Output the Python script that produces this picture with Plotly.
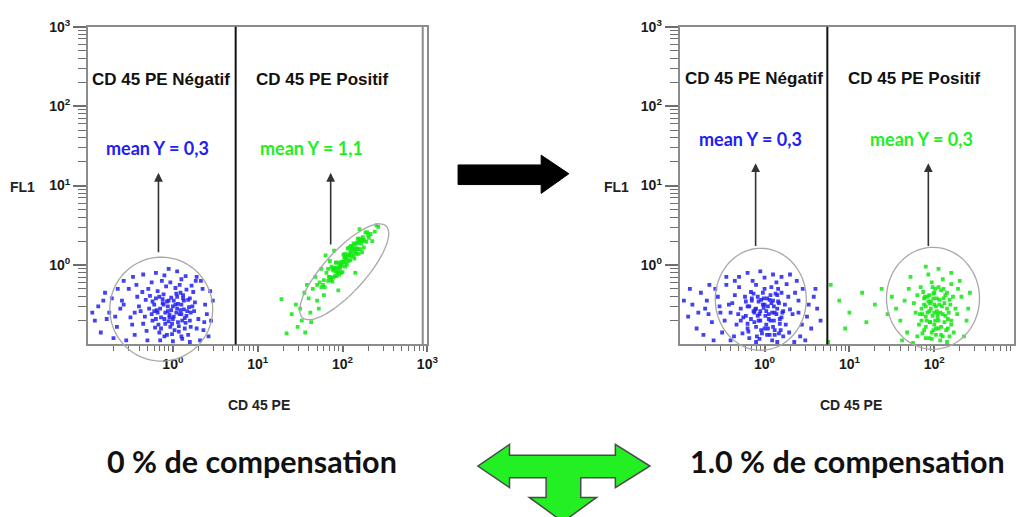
import numpy as np
import plotly.graph_objects as go

W, H = 1030, 517

# ---------------- tick labels ----------------
tick_vals = [1, 10, 100, 1000]
tick_text = ["10<sup>0</sup>", "10<sup>1</sup>", "10<sup>2</sup>", "10<sup>3</sup>"]
minor_vals = [m * 10.0 ** d for d in range(-1, 3) for m in range(2, 10)]

# ---------------- data (log10 units) ----------------
# 0 % compensation, CD45 negative (blue)
neg0_x = [-0.12, 0.05, -0.25, 0.12, -0.05, -0.32, 0.21, -0.18, 0.02, -0.08, 0.15, -0.38, -0.02, 0.26, -0.21,
          0.08, -0.14, 0.18, -0.29, 0.0, -0.1, 0.1, -0.35, 0.24, -0.06, 0.13, -0.22, 0.04, -0.16, 0.3,
          -0.27, 0.07, -0.03, 0.19, -0.11, -0.4, 0.11, -0.19, 0.01, 0.22, -0.31, -0.07, 0.16, -0.24, 0.06,
          -0.13, 0.28, -0.36, -0.01, 0.09, -0.2, 0.14, -0.09, 0.03, -0.28, 0.2, -0.15, 0.25, -0.04, -0.33,
          -0.6, -0.75, -0.88, -0.52, -0.66, -0.92, -0.45, -0.58, -0.8, -0.7, -0.5, -0.62, -0.85, -0.47, -0.72,
          0.38, 0.45, 0.35, 0.42, 0.33, 0.4, 0.47, 0.36, -0.2, 0.05, -0.1, 0.15, -0.35, 0.28, -0.3,
          0.0, 0.2, -0.45, -0.55, -0.42, 0.32, -0.25, -0.65, -0.78, -0.95, -0.48, 0.27, -0.05, 0.1, -0.58,
          -0.68, 0.44, -0.43, 0.37, -0.82,
          -0.05, 0.1, -0.15, 0.0, 0.17, -0.09, 0.06, -0.2, 0.12, -0.03, 0.2, -0.12, 0.04, -0.17, 0.14,
          -0.06, 0.09, -0.24, 0.23, 0.01, -0.1, 0.07, -0.18, 0.16, -0.02, 0.11, -0.14, 0.03, -0.07, 0.18,
          -0.22, 0.05, -0.11, 0.13, -0.01, 0.08, -0.16, 0.21, -0.04, 0.1]
neg0_y = [-0.48, -0.55, -0.62, -0.38, -0.71, -0.44, -0.6, -0.33, -0.82, -0.27, -0.73, -0.58, -0.41, -0.47, -0.79,
          -0.25, -0.66, -0.88, -0.3, -0.52, -0.9, -0.62, -0.74, -0.34, -0.58, -0.45, -0.5, -0.36, -0.85, -0.68,
          -0.39, -0.77, -0.22, -0.53, -0.37, -0.52, -0.93, -0.57, -0.65, -0.26, -0.83, -0.46, -0.31, -0.7, -0.49,
          -0.2, -0.8, -0.34, -0.87, -0.57, -0.42, -0.67, -0.74, -0.29, -0.55, -0.42, -0.95, -0.58, -0.63, -0.65,
          -0.45, -0.6, -0.52, -0.3, -0.78, -0.7, -0.88, -0.2, -0.35, -0.92, -0.66, -0.55, -0.85, -0.15, -0.42,
          -0.5, -0.7, -0.3, -0.9, -0.2, -0.62, -0.45, -0.82, -0.1, -0.08, -0.13, -0.14, -0.12, -0.15, -0.95,
          -0.96, -0.97, -0.6, -0.95, -0.4, -0.95, -0.22, -0.3, -0.68, -0.6, -0.75, -0.2, -0.05, -0.18, -0.5,
          -0.65, -0.33, -0.25, -0.72, -0.45,
          -0.45, -0.5, -0.55, -0.68, -0.58, -0.6, -0.72, -0.68, -0.42, -0.78, -0.7, -0.43, -0.6, -0.75, -0.8,
          -0.52, -0.35, -0.46, -0.52, -0.45, -0.68, -0.84, -0.6, -0.64, -0.57, -0.7, -0.8, -0.5, -0.88, -0.44,
          -0.58, -0.4, -0.5, -0.56, -0.74, -0.62, -0.4, -0.78, -0.66, -0.9]

# 0 % compensation, CD45 positive (green)
pos0_x = [2.03, 2.13, 1.93, 2.23, 1.83, 2.08, 1.98, 2.18, 1.88, 2.28, 1.78, 2.11, 1.95, 2.15, 1.91,
          2.05, 2.01, 2.21, 1.85, 2.33, 2.25, 1.81, 2.09, 1.97, 2.17, 1.89, 2.06, 2.0, 2.13, 1.93,
          2.29, 1.75, 2.19, 1.87, 2.04, 2.02, 2.1, 1.96, 2.23, 1.83, 2.14, 1.92, 2.07, 1.99, 2.27,
          1.79, 2.16, 1.9, 2.12, 1.94, 2.31, 1.73, 2.2, 1.86, 2.03, 2.08, 1.98, 2.18, 1.88, 2.24,
          1.65, 1.6, 1.55, 1.7, 1.5, 1.62, 1.45, 1.58, 1.68, 1.52, 1.72, 1.4, 1.47, 1.28, 1.34,
          1.75, 1.8, 2.35, 2.4, 2.2, 2.38, 1.9, 2.15, 1.95, 1.63, 1.78, 1.56, 2.42, 1.85, 1.7,
          2.07, 1.99, 2.15, 1.91, 2.22, 1.84, 2.11, 1.95, 2.19, 1.87, 2.03, 2.03, 2.26, 2.13, 1.93,
          2.09, 1.97, 2.17, 1.89, 2.05, 2.21, 2.01, 2.3, 1.77, 2.14, 1.92, 2.1, 1.96, 2.24, 2.16]
pos0_y = [0.11, 0.11, 0.03, 0.3, -0.2, 0.22, -0.1, 0.2, -0.05, 0.29, -0.19, 0.15, -0.03, 0.26, -0.14,
          0.0, 0.13, 0.31, -0.15, 0.39, 0.22, -0.1, 0.17, -0.05, 0.21, -0.07, 0.21, -0.09, 0.27, -0.14,
          0.41, -0.28, 0.14, -0.02, 0.07, 0.09, 0.11, 0.03, 0.16, -0.05, 0.21, -0.08, 0.05, 0.04, 0.41,
          -0.28, 0.14, -0.04, 0.23, -0.1, 0.34, -0.22, 0.33, -0.19, 0.03, 0.12, 0.0, 0.33, -0.21, 0.32,
          -0.3, -0.42, -0.35, -0.45, -0.55, -0.6, -0.5, -0.25, -0.15, -0.7, -0.55, -0.62, -0.78, -0.43, -0.86,
          -0.05, 0.12, 0.3, 0.5, 0.45, 0.42, 0.18, -0.1, -0.32, -0.72, -0.38, -0.85, 0.48, 0.05, -0.25,
          0.13, -0.01, 0.16, -0.04, 0.27, -0.15, 0.21, -0.09, 0.28, -0.16, 0.14, -0.02, 0.31, 0.19, -0.05,
          0.06, 0.0, 0.28, -0.16, 0.1, 0.2, 0.04, 0.38, -0.25, 0.08, 0.03, 0.24, -0.12, 0.35, 0.2]

# 1.0 % compensation, CD45 negative (blue)
neg1_x = [0.0, -0.15, 0.12, -0.28, 0.2, -0.05, 0.08, -0.2, 0.25, -0.35, 0.03, -0.1, 0.17, -0.25, 0.3,
          -0.02, -0.4, 0.1, -0.13, 0.22, -0.3, 0.06, -0.18, 0.28, -0.08, 0.14, -0.33, 0.02, -0.22, 0.18,
          -0.04, 0.26, -0.16, 0.09, -0.38, 0.05, -0.12, 0.33, -0.26, 0.15, -0.07, 0.19, -0.31, 0.0, -0.2,
          0.11, -0.06, 0.24, -0.36, 0.07, -0.14, 0.29, -0.23, 0.04, -0.1, 0.16, -0.28, 0.21, -0.01, 0.12,
          -0.55, -0.7, -0.85, -0.62, -0.9, -0.5, -0.75, -0.6, -0.45, -0.8, -0.68, -0.52, -0.88, -0.47, -0.65,
          0.4, 0.5, 0.45, 0.55, 0.62, 0.42, 0.38, 0.58, 0.48, 0.66, -0.2, 0.1, -0.05, 0.2, -0.3,
          0.3, -0.1, 0.15, -0.4, 0.35, -0.42, 0.36, -0.58, -0.72, 0.52, -0.45, 0.0, -0.95, -0.78, 0.44,
          -0.53, 0.6, -0.66, 0.4, -0.35,
          -0.02, 0.1, -0.12, 0.05, 0.15, -0.08, 0.02, -0.18, 0.12, -0.05, 0.2, -0.1, 0.07, -0.22, 0.16,
          -0.03, 0.09, -0.15, 0.04, -0.07, 0.18, -0.19, 0.01, 0.13, -0.11, 0.06, -0.04, 0.22, -0.16, 0.08,
          -0.09, 0.11, -0.01, 0.17, -0.13, 0.03, -0.06, 0.14, -0.2, 0.0]
neg1_y = [-0.5, -0.42, -0.6, -0.55, -0.35, -0.7, -0.28, -0.8, -0.75, -0.38, -0.88, -0.25, -0.48, -0.66, -0.56,
          -0.35, -0.6, -0.78, -0.58, -0.9, -0.28, -0.44, -0.92, -0.4, -0.64, -0.22, -0.75, -0.58, -0.46, -0.68,
          -0.82, -0.24, -0.34, -0.95, -0.48, -0.62, -0.72, -0.62, -0.86, -0.38, -0.46, -0.82, -0.62, -0.3, -0.52,
          -0.52, -0.93, -0.5, -0.9, -0.7, -0.2, -0.85, -0.4, -0.8, -0.55, -0.3, -0.7, -0.6, -0.42, -0.88,
          -0.4, -0.55, -0.5, -0.72, -0.65, -0.85, -0.35, -0.95, -0.25, -0.8, -0.45, -0.6, -0.3, -0.7, -0.25,
          -0.45, -0.65, -0.3, -0.8, -0.55, -0.9, -0.2, -0.4, -0.95, -0.7, -0.1, -0.12, -0.08, -0.15, -0.15,
          -0.12, -0.97, -0.97, -0.95, -0.97, -0.5, -0.35, -0.3, -0.88, -0.5, -0.15, -0.16, -0.45, -0.6, -0.75,
          -0.52, -0.3, -0.62, -0.6, -0.2,
          -0.5, -0.45, -0.6, -0.68, -0.55, -0.4, -0.75, -0.52, -0.82, -0.58, -0.66, -0.78, -0.38, -0.64, -0.46,
          -0.86, -0.6, -0.45, -0.52, -0.7, -0.74, -0.84, -0.64, -0.36, -0.56, -0.88, -0.44, -0.58, -0.68, -0.48,
          -0.9, -0.7, -0.54, -0.86, -0.36, -0.42, -0.62, -0.62, -0.74, -0.8]

# 1.0 % compensation, CD45 positive (green)
pos1_x = [2.0, 1.92, 2.1, 1.85, 2.15, 1.95, 2.05, 1.88, 2.2, 1.8, 2.02, 1.97, 2.12, 1.9, 2.25,
          2.0, 1.78, 2.08, 1.94, 2.18, 1.84, 2.06, 1.9, 2.22, 1.98, 2.1, 1.82, 2.03, 1.93, 2.16,
          1.99, 2.2, 1.87, 2.07, 1.76, 2.04, 1.95, 2.27, 1.86, 2.13, 1.96, 2.14, 1.83, 2.01, 1.9,
          2.09, 1.97, 2.19, 1.8, 2.05, 1.93, 2.23, 1.88, 2.02, 1.96, 2.11, 1.85, 2.17, 1.99, 2.08,
          1.65, 1.6, 1.7, 1.55, 1.68, 2.32, 2.38, 2.3, 2.4, 2.35, 1.72, 2.2, 2.05, 1.9, 2.28,
          1.5, 1.45, 1.3, 1.15, 1.0, 0.88, 0.78, 0.95, 1.2, 0.75, 1.62, 2.42, 1.75, 1.38, 2.15,
          2.0, 2.06, 1.94, 2.12, 1.9, 2.03, 2.15, 1.97, 2.08, 1.92, 2.18, 2.01, 1.88, 2.1, 1.98,
          2.05, 1.95, 2.13, 1.86, 2.02, 2.2, 1.91, 2.07, 1.99, 2.11, 1.94, 2.04, 2.16, 1.89, 2.0]
pos1_y = [-0.5, -0.4, -0.62, -0.55, -0.35, -0.72, -0.28, -0.82, -0.75, -0.38, -0.88, -0.22, -0.48, -0.65, -0.55,
          -0.35, -0.6, -0.78, -0.58, -0.9, -0.28, -0.44, -0.92, -0.4, -0.64, -0.18, -0.75, -0.58, -0.46, -0.68,
          -0.82, -0.24, -0.34, -0.95, -0.48, -0.62, -0.72, -0.62, -0.86, -0.38, -0.46, -0.82, -0.62, -0.3, -0.52,
          -0.52, -0.93, -0.5, -0.9, -0.7, -0.12, -0.85, -0.42, -0.8, -0.55, -0.3, -0.7, -0.6, -0.42, -0.88,
          -0.45, -0.7, -0.3, -0.55, -0.85, -0.4, -0.7, -0.2, -0.55, -0.9, -0.15, -0.1, -0.05, -0.02, -0.3,
          -0.4, -0.62, -0.5, -0.35, -0.6, -0.45, -0.25, -0.8, -0.72, -0.97, -0.95, -0.35, -0.98, -0.3, -0.97,
          -0.6, -0.5, -0.38, -0.72, -0.78, -0.42, -0.55, -0.85, -0.32, -0.6, -0.44, -0.7, -0.5, -0.9, -0.28,
          -0.8, -0.48, -0.64, -0.62, -0.52, -0.7, -0.7, -0.6, -0.36, -0.42, -0.92, -0.66, -0.8, -0.4, -0.75]

# ---------------- geometry (pixels) ----------------
PANELS = {
    "L": dict(x0=89, x1=432, xr=[-1, 3.0]),
    "R": dict(x0=687, x1=1025, xr=[-1, 2.94]),
}
Y_TOP, Y_BOT = 17, 341
YR = [-1, 3]

def px_x(p, v):
    d = PANELS[p]
    return d["x0"] + (v - d["xr"][0]) / (d["xr"][1] - d["xr"][0]) * (d["x1"] - d["x0"])

def px_y(v):
    return Y_BOT - (v - YR[0]) / (YR[1] - YR[0]) * (Y_BOT - Y_TOP)

def P(x, y):
    return x / W, 1 - y / H

def path_from_px(pts, close=True):
    s = ""
    for i, (x, y) in enumerate(pts):
        px, py = P(x, y)
        s += ("M" if i == 0 else "L") + f"{px:.5f},{py:.5f} "
    return s + ("Z" if close else "")

def ellipse_path(panel, cx, cy, a, b, ang):
    cxp, cyp = px_x(panel, cx), px_y(cy)
    t = np.linspace(0, 2 * np.pi, 90)
    th = np.deg2rad(ang)
    xs = cxp + a * np.cos(t) * np.cos(th) - b * np.sin(t) * np.sin(th)
    ys = cyp - (a * np.cos(t) * np.sin(th) + b * np.sin(t) * np.cos(th))
    return path_from_px(list(zip(xs, ys)))

BLUE = "#2020f5"
GREEN = "#10e810"
TXT_GREEN = "#22ee22"

fig = go.Figure()

def add_cloud(xs, ys, color, xa, ya):
    fig.add_trace(go.Scatter(
        x=10 ** np.array(xs), y=10 ** np.array(ys), mode="markers",
        marker=dict(color=color, size=3.8, symbol="square", opacity=0.85, line=dict(width=0)),
        xaxis=xa, yaxis=ya, showlegend=False, hoverinfo="skip"))

add_cloud(neg0_x, neg0_y, BLUE, "x", "y")
add_cloud(pos0_x, pos0_y, GREEN, "x", "y")
add_cloud(neg1_x, neg1_y, BLUE, "x2", "y2")
add_cloud(pos1_x, pos1_y, GREEN, "x2", "y2")

tickfont = dict(family="Liberation Sans", size=14, color="#1a1a1a")
AX_COL = "#8c8c8c"
TICK_COL = "#6e6e6e"

def xaxis(p, anchor):
    d = PANELS[p]
    return dict(domain=[d["x0"] / W, d["x1"] / W], type="log", range=d["xr"], anchor=anchor,
                showline=True, linecolor=AX_COL, linewidth=2, mirror=True,
                showgrid=False, zeroline=False,
                tickmode="array", tickvals=tick_vals, ticktext=["<b>%s</b>" % t for t in tick_text],
                ticks="outside", ticklen=6, tickwidth=1.5, tickcolor=TICK_COL, tickfont=tickfont,
                minor=dict(tickmode="array", tickvals=minor_vals, ticks="outside", ticklen=5,
                           tickwidth=1.4, tickcolor=TICK_COL, showgrid=False))

def yaxis(anchor):
    return dict(domain=[1 - Y_BOT / H, 1 - Y_TOP / H], type="log", range=YR, anchor=anchor,
                showline=True, linecolor=AX_COL, linewidth=2, mirror=True,
                showgrid=False, zeroline=False,
                tickmode="array", tickvals=tick_vals, ticktext=["<b>%s</b>" % t for t in tick_text],
                ticks="outside", ticklen=13, tickwidth=1.5, tickcolor=TICK_COL, tickfont=tickfont,
                minor=dict(tickmode="array", tickvals=minor_vals, ticks="outside", ticklen=8,
                           tickwidth=1.4, tickcolor=TICK_COL, showgrid=False))

shapes = []
annotations = []

# dividers between negative / positive gates
DIV = 0.74
for xr, yr in [("x", "y domain"), ("x2", "y2 domain")]:
    shapes.append(dict(type="line", xref=xr, yref=yr, x0=10 ** DIV, x1=10 ** DIV, y0=0, y1=1,
                       line=dict(color="#111", width=2)))
# double right border of left plot
shapes.append(dict(type="line", xref="x", yref="y domain", x0=10 ** 2.945, x1=10 ** 2.945, y0=0, y1=1,
                   line=dict(color=AX_COL, width=2)))

# gates (ellipses)
gates = [("L", -0.137, -0.556, 52, 53, 0), ("L", 2.02, -0.086, 63, 21, 48),
         ("R", -0.044, -0.432, 46, 52, 0), ("R", 1.985, -0.42, 47, 52, 0)]
for g in gates:
    shapes.append(dict(type="path", xref="paper", yref="paper", path=ellipse_path(*g),
                       line=dict(color="#a8a8a8", width=1.3)))

# big black arrow
black_arrow = [(463, 158), (547, 158), (547, 148), (575, 167), (547, 187), (547, 178), (463, 178)]
shapes.append(dict(type="path", xref="paper", yref="paper", path=path_from_px(black_arrow),
                   fillcolor="#000", line=dict(color="#000", width=1)))

# green T arrow
t_arrow = [(483, 465), (515, 443), (515, 454), (622, 454), (622, 443), (657, 465), (622, 487),
           (622, 477), (587, 477), (587, 497), (603, 497), (569, 522), (535, 497), (552, 497),
           (552, 477), (515, 477), (515, 487)]
shapes.append(dict(type="path", xref="paper", yref="paper", path=path_from_px(t_arrow),
                   fillcolor="#22f022", line=dict(color="#4a4a4a", width=1.5)))

gate_font = dict(family="Liberation Sans", size=17, color="#111")
mean_font = dict(family="Lato", size=18)

def panel_text(xr, yr, x, y, text, font):
    annotations.append(dict(xref=xr, yref=yr, x=x, y=y, text=text, showarrow=False, font=font,
                            xanchor="center", yanchor="middle"))

# left panel labels
panel_text("x", "y", -0.14, 2.33, "<b>CD 45 PE Négatif</b>", gate_font)
panel_text("x", "y", 1.76, 2.33, "<b>CD 45 PE Positif</b>", gate_font)
panel_text("x", "y", -0.186, 1.47, "<b>mean Y = 0,3</b>", dict(mean_font, color=BLUE))
panel_text("x", "y", 1.63, 1.47, "<b>mean Y = 1,1</b>", dict(mean_font, color=TXT_GREEN))
# right panel labels
panel_text("x2", "y2", -0.12, 2.35, "<b>CD 45 PE Négatif</b>", gate_font)
panel_text("x2", "y2", 1.77, 2.35, "<b>CD 45 PE Positif</b>", gate_font)
panel_text("x2", "y2", -0.17, 1.59, "<b>mean Y = 0,3</b>", dict(mean_font, color=BLUE))
panel_text("x2", "y2", 1.85, 1.59, "<b>mean Y = 0,3</b>", dict(mean_font, color=TXT_GREEN))

# mean arrows
def mean_arrow(xr, yr, x, y0, y1):
    annotations.append(dict(xref=xr, yref=yr, axref=xr, ayref=yr, x=x, y=y1, ax=x, ay=y0,
                            text="", showarrow=True, arrowhead=2, arrowsize=1.1, arrowwidth=1.6,
                            arrowcolor="#333"))

mean_arrow("x", "y", -0.17, 0.14, 1.16)
mean_arrow("x", "y", 1.86, 0.24, 1.16)
mean_arrow("x2", "y2", -0.105, 0.22, 1.28)
mean_arrow("x2", "y2", 1.93, 0.22, 1.28)

# axis titles
def paper_text(x, y, text, font, xanchor="center"):
    px, py = P(x, y)
    annotations.append(dict(xref="paper", yref="paper", x=px, y=py, text=text, showarrow=False,
                            font=font, xanchor=xanchor, yanchor="middle"))

ax_font = dict(family="Liberation Sans", size=14, color="#222")
paper_text(23, 181, "<b>FL1</b>", ax_font)
paper_text(623, 181, "<b>FL1</b>", ax_font)
paper_text(262, 403, "<b>CD 45 PE</b>", ax_font)
paper_text(860, 403, "<b>CD 45 PE</b>", ax_font)

cap_font = dict(family="Lato", size=30.5, color="#111")
paper_text(255, 460, "<b>0 % de compensation</b>", cap_font)
paper_text(857, 460, "<b>1.0 % de compensation</b>", cap_font)

fig.update_layout(
    width=W, height=H, margin=dict(l=0, r=0, t=0, b=0),
    paper_bgcolor="white", plot_bgcolor="white", showlegend=False,
    xaxis=xaxis("L", "y"), yaxis=yaxis("x"),
    xaxis2=xaxis("R", "y2"), yaxis2=yaxis("x2"),
    shapes=shapes, annotations=annotations,
)

fig.write_html("out.html")
